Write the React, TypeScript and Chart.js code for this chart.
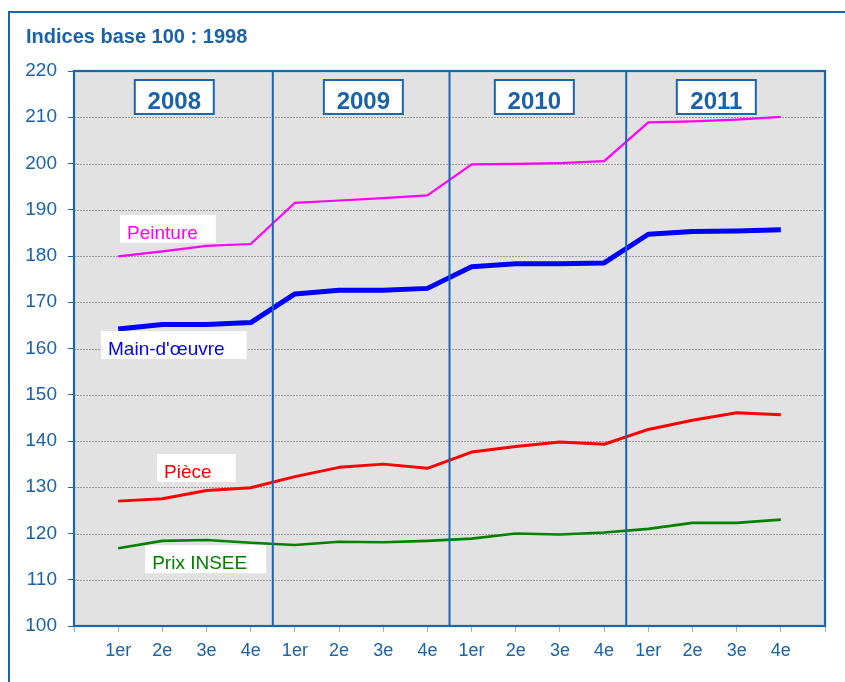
import React, { useEffect, useRef } from 'react';
import { Chart, registerables } from 'chart.js';

Chart.register(...registerables);

const quarters = ['1er', '2e', '3e', '4e'];
const years = ['2008', '2009', '2010', '2011'];
const categories = years.flatMap(() => quarters);

const peinture = [179.9, 181.0, 182.2, 182.6, 191.5, 192.0, 192.5, 193.1, 199.8, 199.9, 200.1, 200.5, 208.9, 209.1, 209.5, 210.1];
const mainOeuvre = [164.2, 165.2, 165.2, 165.6, 171.8, 172.6, 172.6, 173.0, 177.7, 178.3, 178.3, 178.5, 184.7, 185.3, 185.4, 185.7];
const piece = [127.0, 127.5, 129.3, 129.9, 132.3, 134.3, 135.0, 134.1, 137.6, 138.8, 139.8, 139.3, 142.5, 144.5, 146.1, 145.7];
const prixInsee = [116.8, 118.4, 118.6, 118.0, 117.5, 118.2, 118.1, 118.4, 118.9, 120.0, 119.8, 120.2, 121.0, 122.3, 122.3, 123.0];

const yMin = 100;
const yMax = 220;
const yStep = 10;

const title = 'Indices base 100 : 1998';
const seriesNames = ['Peinture', "Main-d'œuvre", 'Pièce', 'Prix INSEE'];

const BLUE = '#1a66b0';
const TEXT_BLUE = '#1a62aa';
const FONT = '"Liberation Sans", Arial, sans-serif';

const series = [
  { name: seriesNames[0], data: peinture, color: '#ff00ff', width: 2.2, lx: 0.2, ly: 183.7, padR: 18 },
  { name: seriesNames[1], data: mainOeuvre, color: '#0000ff', width: 5, lx: -0.23, ly: 158.6, padR: 22 },
  { name: seriesNames[2], data: piece, color: '#ff0000', width: 3, lx: 1.04, ly: 132.0, padR: 24 },
  { name: seriesNames[3], data: prixInsee, color: '#008000', width: 2.6, lx: 0.77, ly: 112.3, padR: 19 },
];

const yearBoxCenters = [1.27, 5.55, 9.42, 13.54];

const decorPlugin = {
  id: 'decor',
  beforeDraw(chart: any) {
    const { ctx, chartArea: a, scales } = chart;
    const y = scales.y;
    ctx.save();
    ctx.fillStyle = '#ffffff';
    ctx.fillRect(0, 0, chart.width, chart.height);
    // outer frame
    ctx.strokeStyle = BLUE;
    ctx.lineWidth = 2;
    ctx.strokeRect(9, 12, 1000, 1000);
    // title
    ctx.fillStyle = TEXT_BLUE;
    ctx.font = `bold 20px ${FONT}`;
    ctx.textAlign = 'left';
    ctx.textBaseline = 'alphabetic';
    ctx.fillText(title, 26, 43);
    // plot background
    ctx.fillStyle = '#e2e2e2';
    ctx.fillRect(a.left, a.top, a.right - a.left, a.bottom - a.top);
    // dashed grid
    ctx.strokeStyle = '#9a9a9a';
    ctx.lineWidth = 1;
    ctx.setLineDash([2, 1]);
    for (let v = yMin + yStep; v < yMax; v += yStep) {
      const py = Math.round(y.getPixelForValue(v)) + 0.5;
      ctx.beginPath();
      ctx.moveTo(a.left, py);
      ctx.lineTo(a.right, py);
      ctx.stroke();
    }
    ctx.restore();
  },
  afterDatasetsDraw(chart: any) {
    const { ctx, chartArea: a, scales } = chart;
    const x = scales.x;
    const y = scales.y;
    ctx.save();
    // year separators
    ctx.strokeStyle = BLUE;
    ctx.lineWidth = 2;
    for (let i = 1; i < years.length; i++) {
      const px = x.getPixelForValue(i * 4 - 0.5);
      ctx.beginPath();
      ctx.moveTo(px, a.top);
      ctx.lineTo(px, a.bottom);
      ctx.stroke();
    }
    // plot border
    ctx.lineWidth = 2.2;
    ctx.strokeRect(a.left, a.top, a.right - a.left, a.bottom - a.top);
    // year boxes
    ctx.font = `bold 24px ${FONT}`;
    ctx.textAlign = 'center';
    ctx.textBaseline = 'alphabetic';
    years.forEach((yr, i) => {
      const cx = x.getPixelForValue(yearBoxCenters[i]);
      const w = 79;
      const top = a.top + 9;
      const h = 34;
      ctx.fillStyle = '#ffffff';
      ctx.fillRect(cx - w / 2, top, w, h);
      ctx.strokeStyle = BLUE;
      ctx.lineWidth = 2;
      ctx.strokeRect(cx - w / 2, top, w, h);
      ctx.fillStyle = TEXT_BLUE;
      ctx.fillText(yr, cx, top + 29);
    });
    // series labels
    ctx.font = `19px ${FONT}`;
    ctx.textAlign = 'left';
    series.forEach((s) => {
      const tx = x.getPixelForValue(s.lx);
      const ty = y.getPixelForValue(s.ly);
      const tw = ctx.measureText(s.name).width;
      ctx.fillStyle = '#ffffff';
      ctx.fillRect(tx - 7, ty - 24, tw + 7 + s.padR, 28);
      ctx.fillStyle = s.color;
      ctx.fillText(s.name, tx, ty);
    });
    ctx.restore();
  },
};

export default function App() {
  const ref = useRef<HTMLCanvasElement>(null);
  useEffect(() => {
    if (!ref.current) return;
    const chart = new Chart(ref.current, {
      type: 'line',
      data: {
        datasets: series.map((s) => ({
          label: s.name,
          data: s.data.map((v, i) => ({ x: i, y: v })),
          borderColor: s.color,
          backgroundColor: s.color,
          borderWidth: s.width,
          pointRadius: 0,
          tension: 0,
          fill: false,
          borderJoinStyle: 'round' as const,
        })),
      },
      options: {
        responsive: false,
        devicePixelRatio: 1,
        animation: false,
        layout: { padding: { left: 0, top: 71, right: 20, bottom: 0 } },
        plugins: { legend: { display: false }, tooltip: { enabled: false }, title: { display: false } },
        scales: {
          x: {
            type: 'linear',
            min: -1,
            max: categories.length,
            afterFit: (s: any) => { s.height = 56; },
            afterBuildTicks: (s: any) => {
              const t = [];
              for (let i = -1; i <= categories.length; i++) t.push({ value: i });
              s.ticks = t;
            },
            ticks: {
              autoSkip: false,
              maxRotation: 0,
              padding: 8,
              color: TEXT_BLUE,
              font: { family: FONT, size: 18 },
              callback: (v: any) => (v >= 0 && v < categories.length ? categories[v] : ''),
            },
            grid: { drawOnChartArea: false, tickLength: 6, tickColor: '#8fb3d9', tickWidth: 1 },
            border: { display: false },
          },
          y: {
            min: yMin,
            max: yMax,
            afterFit: (s: any) => { s.width = 74; },
            ticks: {
              stepSize: yStep,
              padding: 11,
              color: TEXT_BLUE,
              font: { family: FONT, size: 19 },
            },
            grid: { drawOnChartArea: false, tickLength: 6, tickColor: BLUE, tickWidth: 1 },
            border: { display: false },
          },
        },
      },
      plugins: [decorPlugin],
    } as any);
    return () => chart.destroy();
  }, []);
  return (
    <div style={{ position: 'absolute', left: 0, top: 0, width: 845, height: 682 }}>
      <canvas ref={ref} width={845} height={682} />
    </div>
  );
}
